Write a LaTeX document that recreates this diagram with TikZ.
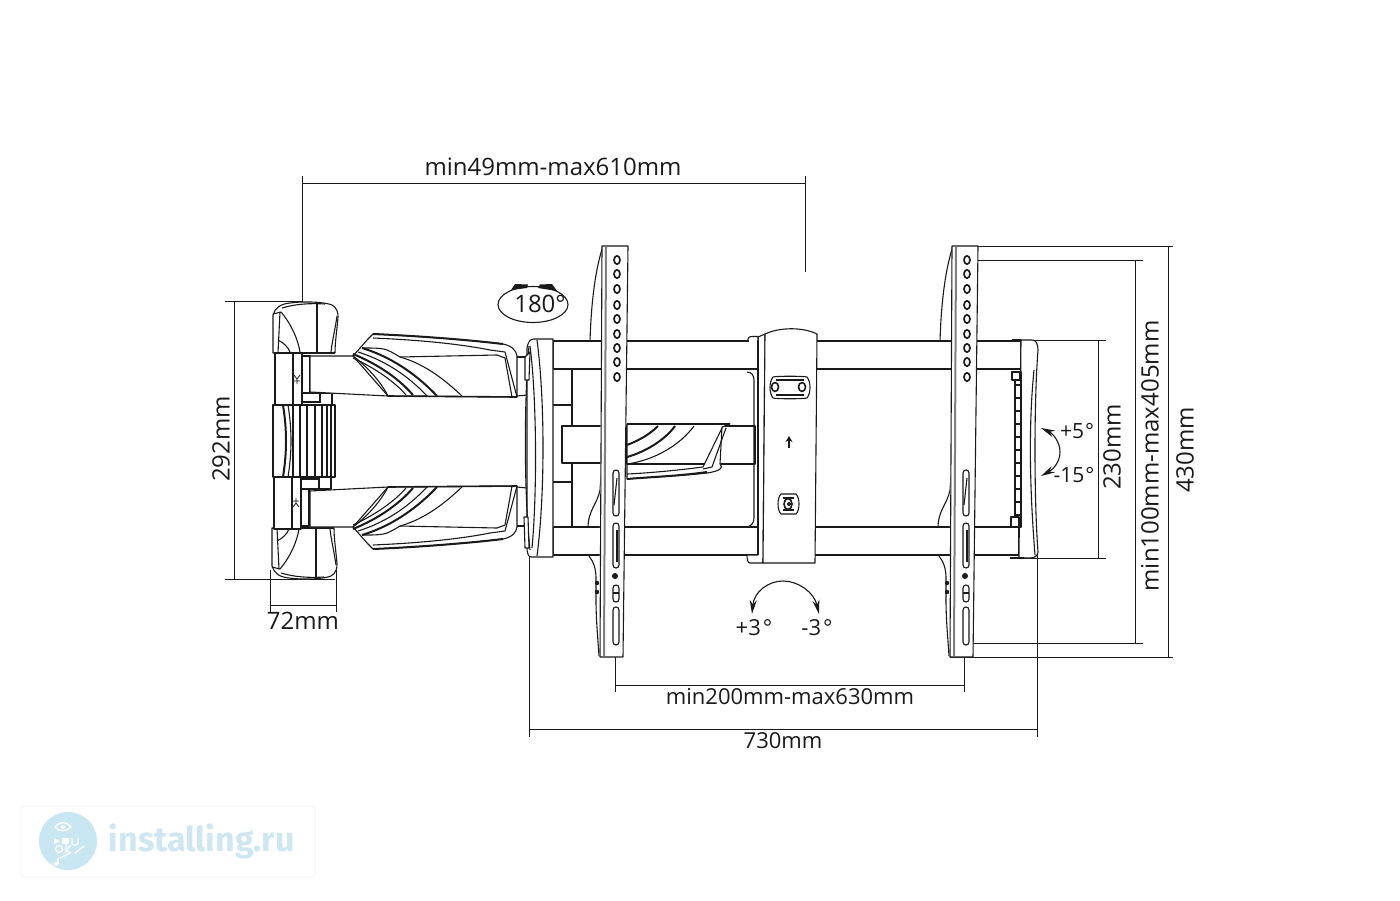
\documentclass[tikz,border=0pt]{standalone}
\usepackage{fontspec}
\setmainfont{Open Sans}
\newfontfamily\logofont{Fira Sans}
\usetikzlibrary{arrows.meta}
\definecolor{ink}{HTML}{1A1A1A}
\definecolor{logoblue}{HTML}{C9E6F3}
\definecolor{logotext}{HTML}{CFE7F2}
\tikzset{
  dim/.style={draw=ink,line width=.9pt},
  lnn/.style={draw=ink,line width=1.1pt,line join=round},
  thk/.style={draw=ink,line width=2pt},
  solid white/.style={lnn,fill=white},
  lbl/.style={text=ink,font=\fontsize{24}{24}\selectfont,inner sep=0pt},
  mlbl/.style={text=ink,font=\fontsize{22}{22}\selectfont,inner sep=0pt},
  slbl/.style={text=ink,font=\fontsize{21}{21}\selectfont,inner sep=0pt},
  tip/.style={-{Stealth[length=14pt,width=7pt]},line width=1.1pt,draw=ink},
}
% arm shell, drawn for the upper arm; the lower arm is its mirror image
\newcommand{\armshell}{%
  \draw[solid white] (310,356) -- (353,356) -- (388,396) -- (310,392) -- cycle;
  \draw[solid white] (353,356) -- (368,339) -- (373,334) .. controls (420,336) and (470,340) .. (503,344)
     .. controls (512,346) and (516,350) .. (517,356) -- (517,397) -- (388,396) .. controls (380,380) and (365,365) .. (353,356) -- cycle;
  \draw[thk] (373,334) .. controls (420,336) and (470,340) .. (503,344);
  \draw[lnn] (373,338) .. controls (420,340) and (460,344) .. (490,350);
  \draw[lnn] (362,348) .. controls (385,348) .. (400,357) -- (497,355);
  \draw[lnn] (490,350) -- (505,352) -- (517,397);
  \draw[lnn] (497,355) -- (505,358) -- (512,397);
  \draw[thk] (353,354) .. controls (380,365) and (400,380) .. (413,395);
  \draw[lnn] (353,358) .. controls (375,368) and (395,382) .. (406,395);
  \draw[thk] (362,348) .. controls (395,358) and (420,378) .. (437,396);
  \draw[lnn] (358,352) .. controls (390,362) and (412,380) .. (427,396);
  \draw[lnn] (400,357) .. controls (425,364) and (445,380) .. (462,396);
  \draw[draw=ink,line width=1.6pt] (388,396) -- (517,397);
  \draw[lnn] (517,357) -- (527,357);
  \draw[lnn] (517,396) -- (527,395);
}
% wall-plate cap, upper one; the lower cap is its mirror image
\newcommand{\wallcap}{%
  \draw[solid white] (273,353) -- (273,315) .. controls (275,308) and (280,304) .. (290,303)
     .. controls (305,301) and (325,302) .. (332,305) .. controls (337,308) and (338,312) .. (338,317)
     .. controls (337,330) and (335,342) .. (335,353) -- cycle;
  \draw[lnn] (273,314) -- (281,312) .. controls (292,325) and (298,340) .. (300,352);
  \draw[lnn] (282,308) .. controls (295,304) and (310,303) .. (325,304);
  \draw[lnn] (278,340) .. controls (284,343) and (288,347) .. (290,352);
  \draw[lnn] (280,312) -- (278,353);
  \draw[lnn] (317,303) -- (317,352);
  \draw[lnn] (337,316) .. controls (335,330) and (332,342) .. (331,352);
  \draw[thk] (275,353) -- (335,353);
}
% wall-plate side block
\newcommand{\wallblock}{%
  \draw[solid white] (275,353) rectangle (302,405);
  \draw[lnn] (293,353) -- (293,405);
  \draw[solid white] (302,356) rectangle (310,393);
  \draw[lnn] (302,393) -- (320,393) -- (320,403);
  \draw[lnn] (320,393) -- (332,393) -- (332,405);
  \draw[draw=ink,line width=.8pt] (294,375) -- (297,379) -- (300,375) (297,379) -- (297,384) (294,381) -- (300,381);
}
% curved outer edge of a TV plate (behind the rails)
\newcommand{\plateback}{%
  \draw[lnn] (603,246) .. controls (595,270) and (591,305) .. (590,342);
  \draw[lnn] (601,476) -- (600,490) .. controls (597,505) and (588,510) .. (588,528);
  \draw[lnn] (589,556) .. controls (594,562) and (596,570) .. (596,578) -- (596,600)
     .. controls (596,620) and (598,640) .. (599,656);
  \fill[ink] (597,583) circle (2.2) (597,592) circle (2.2);
}
% strip of a TV plate with holes and slots
\newcommand{\holeat}[1]{\draw[lnn,line width=1.7pt,fill=white] (617,#1) ellipse (3 and 4.2);}
\newcommand{\slotat}[2]{\draw[lnn,fill=white] (613,#1+3) .. controls (613,#1-1) and (619,#1-1) .. (619,#1+3) -- (619,#2-3) .. controls (619,#2+1) and (613,#2+1) .. (613,#2-3) -- cycle;}
\newcommand{\platefront}{%
  \fill[white] (602,246) -- (628,246) -- (623,657) -- (599,657) -- cycle;
  \draw[lnn] (600,657) -- (602,246) -- (628,246) -- (623,657) -- cycle;
  \draw[draw=gray,line width=2pt] (606,247) -- (604,656);
  \foreach \yy in {260,274,289,305,319,334,348,362,377}{\holeat{\yy}}
  \slotat{470}{516}
  \draw[lnn] (617,478) -- (614,505);
  \slotat{523}{568}
  \draw[lnn] (617,530) -- (617,562);
  \fill[ink] (615,576) circle (3);
  \slotat{585}{602}
  \draw[lnn] (613,593) -- (619,593);
  \slotat{607}{645}
}
\begin{document}
\begin{tikzpicture}[x=1pt,y=-1pt]
\useasboundingbox (0,0) rectangle (1400,900);
\fill[white] (0,0) rectangle (1400,900);

% ---- dimension lines ----
\draw[dim] (302,183) -- (805,183) (302,176) -- (302,302) (805,176) -- (805,272);
\draw[dim] (234,301) -- (234,579) (225,301) -- (302,301) (225,579) -- (335,579);
\draw[dim] (270,605) -- (336,605) (270,570) -- (270,612) (336,570) -- (336,612);
\draw[dim] (615,685) -- (964,685) (615,650) -- (615,692) (964,650) -- (964,692);
\draw[dim] (529,729) -- (1037,729) (529,555) -- (529,737) (1037,555) -- (1037,737);
\draw[dim] (1168,246) -- (1168,657) (952,246) -- (1173,246) (950,657) -- (1173,657);
\draw[dim] (1135,260) -- (1135,643) (970,260) -- (1143,260) (970,643) -- (1143,643);
\draw[dim] (1098,340) -- (1098,558) (1012,340) -- (1106,340) (1012,558) -- (1106,558);

% ---- wall plate and lower/upper arms ----
\wallcap
\begin{scope}[yscale=-1,shift={(-1,-881)}] \wallcap \end{scope}
\wallblock
\begin{scope}[yscale=-1,shift={(-1,-882)}] \wallblock \end{scope}
\armshell
\begin{scope}[yscale=-1,shift={(0,-883)}] \armshell \end{scope}

% pivot column
\draw[solid white] (273,405) rectangle (335,477);
\foreach \xx in {293,300,307,315,322}{\draw[lnn] (\xx,405) -- (\xx,477);}
\draw[thk] (283,405) .. controls (287,430) and (287,452) .. (283,477);
\draw[lnn] (288,405) .. controls (292,430) and (292,452) .. (288,477);
\draw[thk] (327,405) -- (327,477);
\draw[thk] (331,405) -- (331,477);
\draw[thk] (302,402) -- (320,402) (302,479) -- (320,479);
\draw[thk] (273,405) -- (335,405) (273,477) -- (335,477);
\draw[thk] (335,405) -- (335,477);

% ---- behind the plates ----
\plateback
\begin{scope}[shift={(350,0)}] \plateback \end{scope}
\draw[lnn] (572,369) -- (572,527);
\draw[thk] (553,405) -- (573,405) (553,482) -- (573,482);
\draw[solid white] (562,426) rectangle (602,463);
\draw[solid white] (627,426) -- (755,426) -- (755,464) -- (627,464) -- cycle;
\draw[solid white] (627,424) -- (730,424) -- (722,427) -- (720,464) .. controls (724,468) and (720,471) .. (707,473)
   .. controls (680,476) and (650,477) .. (627,479) -- cycle;
\draw[thk] (627,424) -- (730,424);
\draw[thk] (627,479) .. controls (650,477) and (680,476) .. (707,472);
\draw[lnn] (627,474) .. controls (650,473) and (680,470) .. (703,467) -- (722,428);
\draw[lnn] (703,469) -- (712,467) -- (726,428);
\draw[lnn] (627,464) -- (704,464);
\draw[thk] (627,445) .. controls (640,440) and (650,434) .. (658,426);
\draw[thk] (627,457) .. controls (645,452) and (665,440) .. (675,426);
\draw[lnn] (627,464) .. controls (655,460) and (680,445) .. (694,426);
% rear bracket edge
\draw[lnn] (747,372) .. controls (752,372) and (754,376) .. (754,380) -- (754,518) .. controls (754,522) and (752,526) .. (747,527);

% ---- rails ----
\draw[solid white] (553,341) rectangle (1021,369);
\draw[solid white] (553,527) rectangle (1019,555);
\draw[thk] (553,341) -- (1021,341) (553,527) -- (1019,527);

% ---- end plate at the arm ----
\draw[solid white] (527,348) .. controls (528,342) and (530,339) .. (534,339) -- (553,339) -- (553,557) -- (531,557)
   .. controls (528,557) and (527,552) .. (527,548) -- cycle;
\draw[lnn] (537,340) .. controls (545,400) and (545,495) .. (537,556);
\draw[lnn] (530,346) .. controls (537,400) and (537,495) .. (532,548);
\draw[lnn] (529,346) .. controls (524,400) and (524,495) .. (530,550);
\draw[lnn,fill=white] (525,357) -- (530,352) -- (529,380) -- (525,380) -- cycle;
\draw[lnn,fill=white] (524,517) -- (528,517) -- (529,548) -- (525,548) -- cycle;

% ---- TV plates ----
\platefront
\begin{scope}[shift={(350,0)}] \platefront \end{scope}

% ---- far end plate ----
\draw[solid white] (1021,340) -- (1032,340) .. controls (1036,340) and (1038,344) .. (1038,350)
  .. controls (1034,400) and (1034,500) .. (1038,552) .. controls (1038,556) and (1034,558) .. (1030,558) -- (1019,558) -- cycle;
\draw[lnn] (1034,370) .. controls (1029,420) and (1029,480) .. (1035,555);
\draw[thk] (1012,340) -- (1021,340) (1010,558) -- (1024,558);
\draw[lnn,fill=white] (1015,372) rectangle (1021,527);
\foreach \yy in {385,398,411,424,437,450,463,476,489,502,515}{\draw[thk] (1015,\yy) -- (1021,\yy);}
\draw[lnn,fill=white] (1012,372) rectangle (1020,380);
\draw[lnn,fill=white] (1011,517) rectangle (1019,527);

% ---- centre bracket ----
\draw[solid white] (758,337) -- (765,334) -- (763,563) -- (750,563) .. controls (748,563) and (747,560) .. (747,555) -- (758,555) -- cycle;
\draw[lnn,fill=white] (748,341) -- (748,339) .. controls (748,337) and (750,336.5) .. (752,336.5) -- (758,336.5) -- (758,341) -- cycle;
\draw[draw=white,line width=2pt] (749,341) -- (757,341);
\draw[solid white] (765,334) .. controls (780,327) and (803,327) .. (817,334) -- (815,563) -- (763,563) -- cycle;
\draw[thk] (758,341) -- (758,555);
\draw[solid white] (773,377) .. controls (776,376) and (804,376) .. (807,377) .. controls (811,382) and (811,393) .. (807,398)
   .. controls (804,399) and (776,399) .. (773,398) .. controls (769,393) and (769,382) .. (773,377) -- cycle;
\draw[lnn] (776,380) -- (804,380) (776,395) -- (804,395);
\draw[lnn,line width=1.6pt,fill=white] (775,387) ellipse (3.5 and 4.5);
\draw[lnn,line width=1.6pt,fill=white] (802,387) ellipse (3.5 and 4.5);
\draw[-{Stealth[length=6pt,width=7pt]},line width=1.6pt,draw=ink] (789,448) -- (789,436);
\draw[solid white] (781,494) -- (796,494) .. controls (800,498) and (800,510) .. (796,514) -- (781,514) .. controls (777,510) and (777,498) .. (781,494) -- cycle;
\draw[lnn] (783,498) -- (794,498) (783,510) -- (794,510);
\draw[lnn,line width=1.6pt,fill=white] (788,504) ellipse (4 and 5.5);
\fill[ink] (789,504) circle (2);

% ---- rotation marks ----
\draw[lnn,fill=white] (533,304.5) ellipse (35 and 18);
\fill[ink] (511,290) -- (515,284) -- (528,284.5) -- (527,288) -- cycle;
\fill[ink] (538,288) -- (540,284.5) -- (552,284) -- (557,291) -- cycle;
\draw[tip] (783,581) .. controls (768,581) and (754,592) .. (752,614);
\draw[tip] (783,581) .. controls (798,581) and (814,592) .. (819,614);
\draw[tip] (1060,452) .. controls (1060,441) and (1052,433) .. (1041,428);
\draw[tip] (1060,452) .. controls (1060,463) and (1052,470) .. (1041,476);

% ---- labels ----
\node[lbl] (tDist) at (553,167) {min49mm-max610mm};
\node[lbl,rotate=90] (tH) at (221,439) {292mm};
\node[lbl] (tD) at (303,621) {72mm};
\node[lbl] (tRot) at (540,304) {180°};
\node[mlbl] (tW) at (790,697) {min200mm-max630mm};
\node[mlbl] (tT) at (783,741) {730mm};
\node[mlbl] (tP3) at (754,628) {+3\kern2pt°};
\node[mlbl] (tM3) at (817,628) {-3\kern2pt°};
\node[slbl] (tP5) at (1077,431) {+5\kern1pt°};
\node[slbl] (tM15) at (1074,475) {-15\kern1pt°};
\node[lbl,rotate=90] (tA) at (1112,447) {230mm};
\node[lbl,rotate=90] (tB) at (1150,456) {min100mm-max405mm};
\node[lbl,rotate=90] (tC) at (1185,450) {430mm};

% ---- watermark ----
\draw[draw=black!4,line width=1pt,rounded corners=3pt] (21,806) rectangle (315,877);
\fill[logoblue] (68,841) circle (29);
\begin{scope}[draw=white,line width=1.3pt]
  \draw[white] (55,827) .. controls (60,821) and (66,821) .. (71,827) .. controls (66,832) and (60,832) .. (55,827) -- cycle;
  \fill[white] (63,827) circle (2);
  \fill[white] (62,838) rectangle (69,844);
  \fill[white] (54,838) -- (60,841) -- (54,844) -- cycle;
  \draw[white] (72,838) -- (72,843) .. controls (73,846) and (77,846) .. (78,843) -- (78,838);
  \draw[white] (59,849) circle (3.5);
  \draw[white] (66,844) -- (66,853) (71,845) -- (66,850) -- (71,853);
  \draw[white] (75,853) -- (84,846);
  \draw[white] (60,858) -- (70,853);
  \draw[white] (58,858) -- (58,864);
  \fill[white] (56,864) circle (2);
\end{scope}
\node[text=logotext,inner sep=0pt,font=\logofont\fontsize{34}{34}\selectfont\bfseries] (logo) at (202,841) {installing.ru};
\end{tikzpicture}
\end{document}
